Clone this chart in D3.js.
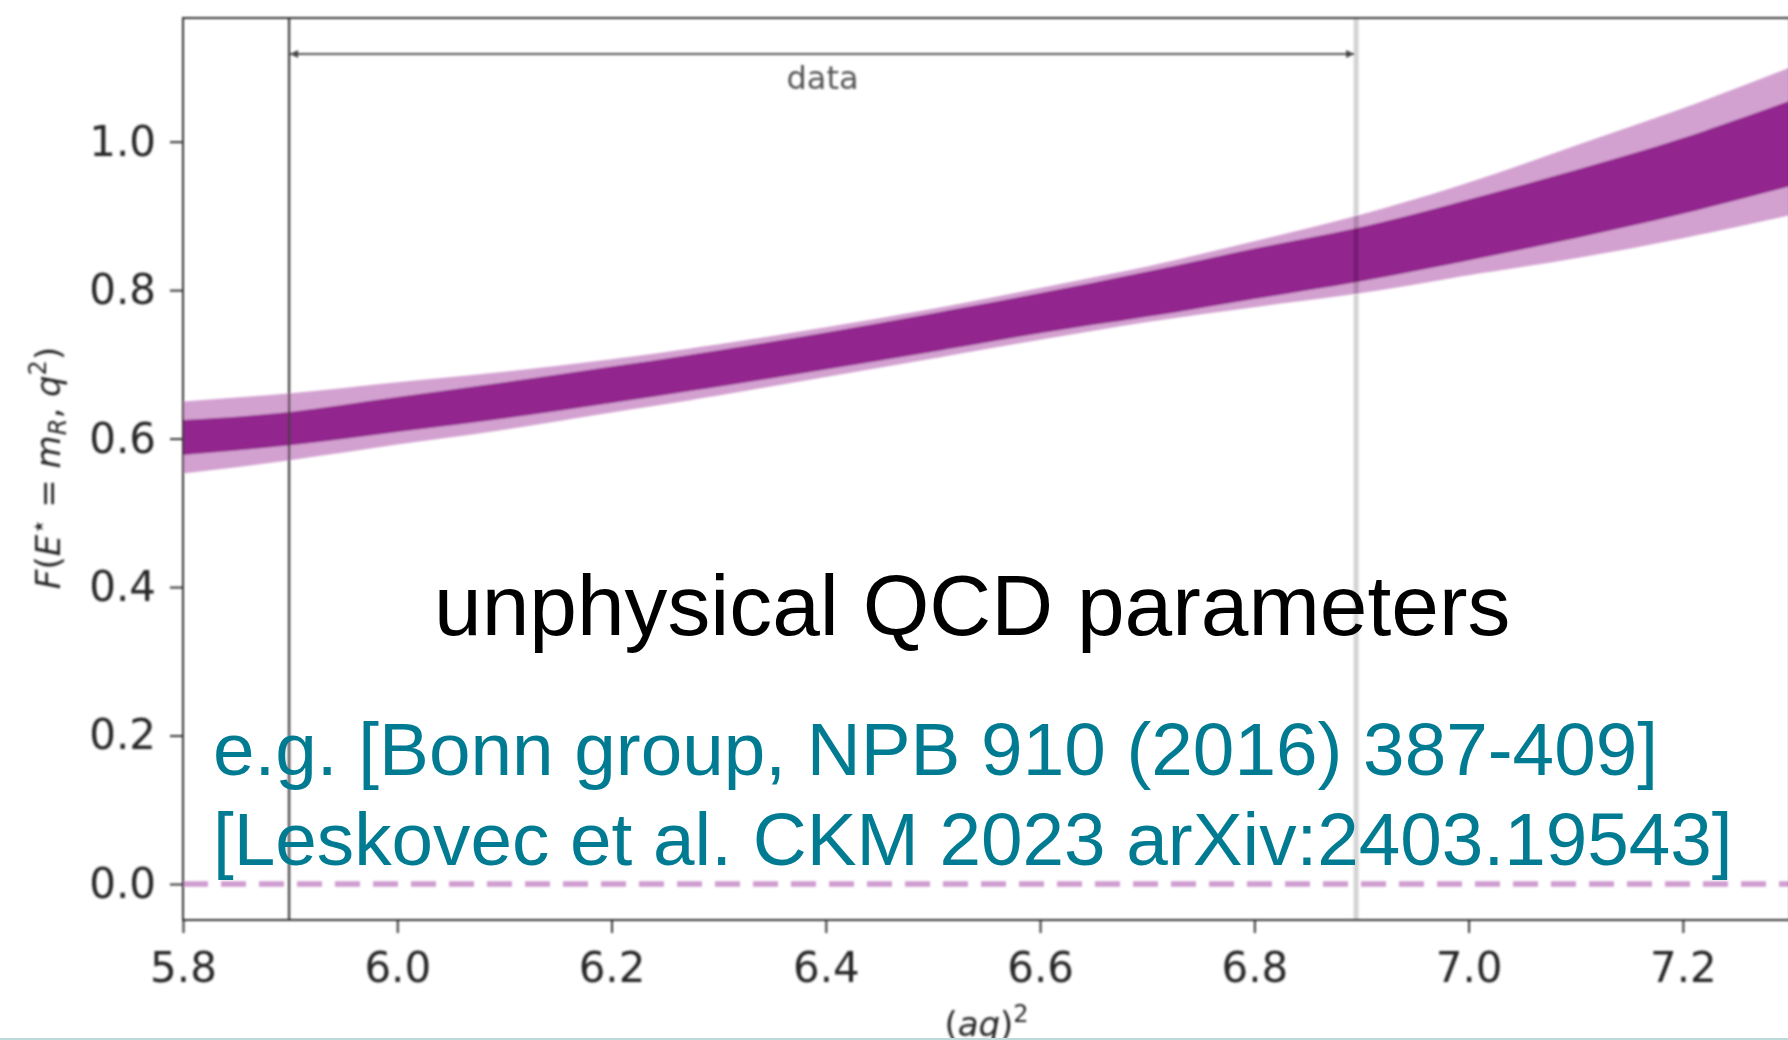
<!DOCTYPE html>
<html>
<head>
<meta charset="utf-8">
<script src="https://cdn.jsdelivr.net/npm/d3@7"></script>
<style>
  html, body { margin: 0; padding: 0; background: #fff; }
  svg { display: block; }
</style>
</head>
<body>
<svg id="chart" width="1788" height="1040"></svg>
<script>
// (aq)^2 grid of the fit band
const qSq = [5.8, 5.9, 6.0, 6.1, 6.2, 6.3, 6.4, 6.5, 6.6, 6.7, 6.8, 6.9, 7.0, 7.1, 7.2, 7.3];
// outer (light) band
const band2Lo = [0.553, 0.571, 0.592, 0.612, 0.635, 0.658, 0.683, 0.708, 0.733, 0.757, 0.777, 0.796, 0.820, 0.843, 0.870, 0.901];
const band2Hi = [0.650, 0.661, 0.676, 0.690, 0.707, 0.727, 0.750, 0.775, 0.803, 0.832, 0.866, 0.902, 0.945, 0.995, 1.045, 1.100];
// inner (dark) band
const band1Lo = [0.578, 0.591, 0.609, 0.627, 0.648, 0.670, 0.693, 0.717, 0.742, 0.764, 0.788, 0.812, 0.840, 0.870, 0.903, 0.940];
const band1Hi = [0.625, 0.636, 0.656, 0.676, 0.697, 0.719, 0.743, 0.769, 0.796, 0.825, 0.856, 0.885, 0.922, 0.962, 1.005, 1.055];

// fitted-data range marked by vertical lines and the arrow
const dataRange = [5.899, 6.895];
const xTicks = [5.8, 6.0, 6.2, 6.4, 6.6, 6.8, 7.0, 7.2];
const yTicks = [0.0, 0.2, 0.4, 0.6, 0.8, 1.0];

const title = "unphysical QCD parameters";
const refs = ["e.g. [Bonn group, NPB 910 (2016) 387-409]",
              "[Leskovec et al. CKM 2023 arXiv:2403.19543]"];

const svg = d3.select("#chart");
const W = 1788, H = 1040;
const axLeft = 183, axRight = 1790, axTop = 18, axBottom = 920;

const x = d3.scaleLinear().domain([5.8, 7.3]).range([axLeft, axRight]);
const y = d3.scaleLinear().domain([-0.0485, 1.1666]).range([axBottom, axTop]);

const defs = svg.append("defs");
defs.append("filter").attr("id", "soft")
  .attr("x", "-5%").attr("y", "-5%").attr("width", "110%").attr("height", "110%")
  .append("feGaussianBlur").attr("stdDeviation", 0.9);
defs.append("clipPath").attr("id", "plotArea")
  .append("rect").attr("x", axLeft).attr("y", axTop)
  .attr("width", axRight - axLeft).attr("height", axBottom - axTop);

["start", "end"].forEach(kind => {
  defs.append("marker").attr("id", "head-" + kind)
    .attr("viewBox", "0 0 10 10").attr("refX", kind === "end" ? 10 : 0).attr("refY", 5)
    .attr("markerUnits", "userSpaceOnUse")
    .attr("markerWidth", 9).attr("markerHeight", 8)
    .attr("orient", "auto")
    .append("path")
    .attr("d", kind === "end" ? "M0,0 L10,5 L0,10 z" : "M10,0 L0,5 L10,10 z")
    .attr("fill", "#444");
});

svg.append("rect").attr("width", W).attr("height", H).attr("fill", "#fff");

const chart = svg.append("g").attr("filter", "url(#soft)");
const plot = chart.append("g").attr("clip-path", "url(#plotArea)");

const rows = qSq.map((q, i) => ({ q, lo2: band2Lo[i], hi2: band2Hi[i], lo1: band1Lo[i], hi1: band1Hi[i] }));

const outer = d3.area().curve(d3.curveMonotoneX)
  .x(d => x(d.q)).y0(d => y(d.lo2)).y1(d => y(d.hi2));
const inner = d3.area().curve(d3.curveMonotoneX)
  .x(d => x(d.q)).y0(d => y(d.lo1)).y1(d => y(d.hi1));

plot.append("path").datum(rows).attr("d", outer).attr("fill", "#d3a1d0");
plot.append("path").datum(rows).attr("d", inner).attr("fill", "#92258e");

// zero reference line
plot.append("line")
  .attr("x1", x(5.8)).attr("x2", x(7.3))
  .attr("y1", y(0)).attr("y2", y(0))
  .attr("stroke", "#cf9ccf").attr("stroke-width", 5.5)
  .attr("stroke-dasharray", "25,13");

// data-range markers
plot.append("line")
  .attr("x1", x(dataRange[0])).attr("x2", x(dataRange[0]))
  .attr("y1", axTop).attr("y2", axBottom)
  .attr("stroke", "#3a3a3a").attr("stroke-width", 2.2);
plot.append("line")
  .attr("x1", x(dataRange[1])).attr("x2", x(dataRange[1]))
  .attr("y1", axTop).attr("y2", axBottom)
  .attr("stroke", "#000").attr("stroke-opacity", 0.17).attr("stroke-width", 5);

const yArrow = 54;
plot.append("line")
  .attr("x1", x(dataRange[0]) + 1).attr("x2", x(dataRange[1]) - 2)
  .attr("y1", yArrow).attr("y2", yArrow)
  .attr("stroke", "#555").attr("stroke-width", 2)
  .attr("marker-start", "url(#head-start)")
  .attr("marker-end", "url(#head-end)");
plot.append("text")
  .attr("x", x((dataRange[0] + dataRange[1]) / 2)).attr("y", 89)
  .attr("text-anchor", "middle")
  .attr("font-family", "DejaVu Sans").attr("font-size", 32)
  .attr("fill", "#555").text("data");

// frame
chart.append("rect")
  .attr("x", axLeft).attr("y", axTop)
  .attr("width", axRight - axLeft).attr("height", axBottom - axTop)
  .attr("fill", "none").attr("stroke", "#333").attr("stroke-width", 2);

// axes
const xAxis = chart.append("g").attr("transform", `translate(0,${axBottom})`)
  .call(d3.axisBottom(x).tickValues(xTicks).tickFormat(d3.format(".1f"))
    .tickSize(13).tickPadding(19));
const yAxis = chart.append("g").attr("transform", `translate(${axLeft},0)`)
  .call(d3.axisLeft(y).tickValues(yTicks).tickFormat(d3.format(".1f"))
    .tickSize(13).tickPadding(14));

[xAxis, yAxis].forEach(ax => {
  ax.select(".domain").remove();
  ax.selectAll(".tick line").attr("stroke", "#333").attr("stroke-width", 2);
  ax.selectAll(".tick text")
    .attr("font-family", "DejaVu Sans").attr("font-size", 42).attr("fill", "#262626");
});

// axis titles
const xl = chart.append("text")
  .attr("x", (axLeft + axRight) / 2).attr("y", 1036)
  .attr("text-anchor", "middle")
  .attr("font-family", "DejaVu Sans").attr("font-size", 34).attr("fill", "#262626");
xl.append("tspan").text("(");
xl.append("tspan").attr("font-style", "italic").text("aq");
xl.append("tspan").text(")");
xl.append("tspan").attr("font-size", 24).attr("dy", "-0.6em").text("2");

const yl = chart.append("text")
  .attr("transform", "translate(60,468) rotate(-90)")
  .attr("text-anchor", "middle")
  .attr("font-family", "DejaVu Sans").attr("font-size", 34).attr("fill", "#262626");
yl.append("tspan").attr("font-style", "italic").text("F");
yl.append("tspan").text("(");
yl.append("tspan").attr("font-style", "italic").text("E");
yl.append("tspan").attr("font-size", 26).attr("dy", -13).text("⋆");
yl.append("tspan").attr("dy", 13).text(" = ");
yl.append("tspan").attr("font-style", "italic").text("m");
yl.append("tspan").attr("font-style", "italic").attr("font-size", 24).attr("dy", 6).text("R");
yl.append("tspan").attr("dy", -6).text(", ");
yl.append("tspan").attr("font-style", "italic").text("q");
yl.append("tspan").attr("font-size", 24).attr("dy", -14).text("2");
yl.append("tspan").attr("dy", 14).text(")");

// annotations over the plot
svg.append("text")
  .attr("x", 434).attr("y", 635)
  .attr("font-family", "'Liberation Sans', Arial, Helvetica, sans-serif")
  .attr("font-size", 85.7).attr("fill", "#000").text(title);

svg.selectAll("text.ref").data(refs).join("text")
  .attr("class", "ref")
  .attr("x", 213).attr("y", (d, i) => 775 + i * 90)
  .attr("font-family", "'Liberation Sans', Arial, Helvetica, sans-serif")
  .attr("font-size", 74.7).attr("fill", "#007b92").text(d => d);

// slide edge
svg.append("rect").attr("x", 0).attr("y", 1038).attr("width", W).attr("height", 2).attr("fill", "#bcdada");
</script>
</body>
</html>
